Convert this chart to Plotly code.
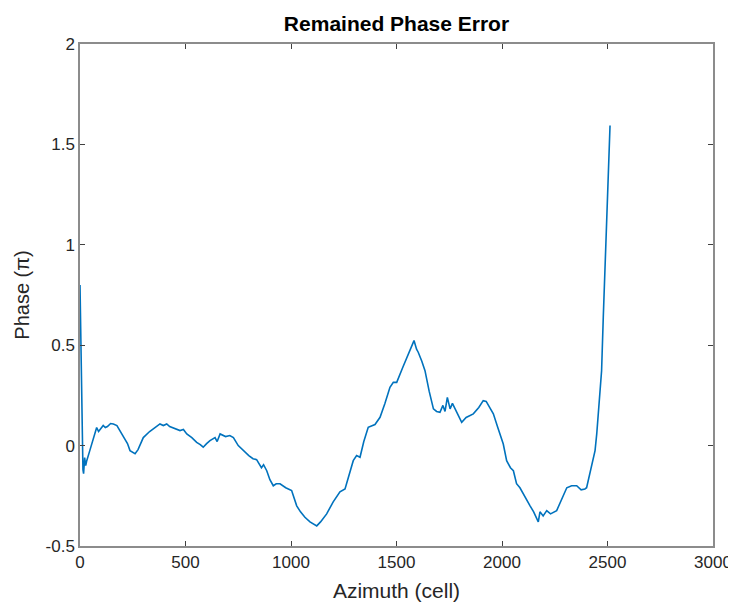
import plotly.graph_objects as go

azimuth = [0, 3, 6, 10, 14, 17, 22, 27, 32, 45, 60, 79, 88, 95, 110, 120, 130, 145, 158, 175, 190,
           210, 225, 237, 250, 261, 275, 300, 330, 360, 379, 395, 411, 425, 440, 474, 490, 506,
           530, 553, 570, 584, 600, 616, 640, 650, 664, 690, 710, 727, 750, 774, 800, 820, 837,
           860, 870, 885, 900, 916, 930, 948, 975, 1003, 1015, 1027, 1045, 1066, 1090, 1110,
           1122, 1140, 1169, 1200, 1232, 1256, 1275, 1295, 1311, 1327, 1345, 1366, 1398, 1422,
           1445, 1469, 1485, 1501, 1530, 1564, 1575, 1583, 1595, 1603, 1620, 1635, 1655, 1675,
           1690, 1706, 1720, 1730, 1741, 1754, 1765, 1777, 1790, 1809, 1830, 1850, 1864, 1890,
           1911, 1925, 1940, 1959, 1980, 2006, 2022, 2040, 2054, 2069, 2085, 2110, 2133, 2150,
           2164, 2172, 2180, 2195, 2212, 2230, 2259, 2280, 2307, 2330, 2354, 2375, 2393, 2401,
           2417, 2425, 2441, 2449, 2456, 2464, 2472, 2480, 2496, 2512]
phase = [0.80, 0.55, 0.30, 0.0, -0.12, -0.14, -0.06, -0.10, -0.075, -0.03, 0.02, 0.09, 0.07,
         0.08, 0.10, 0.09, 0.095, 0.11, 0.108, 0.10, 0.075, 0.04, 0.01, -0.025, -0.035, -0.04,
         -0.02, 0.04, 0.07, 0.095, 0.108, 0.10, 0.108, 0.095, 0.09, 0.075, 0.08, 0.058, 0.04,
         0.016, 0.005, -0.008, 0.01, 0.025, 0.04, 0.02, 0.058, 0.045, 0.05, 0.04, 0.0, -0.025,
         -0.05, -0.065, -0.07, -0.11, -0.095, -0.125, -0.17, -0.2, -0.19, -0.19, -0.21, -0.224,
         -0.26, -0.30, -0.33, -0.357, -0.38, -0.395, -0.40, -0.38, -0.34, -0.28, -0.23, -0.216,
         -0.15, -0.075, -0.05, -0.058, 0.02, 0.091, 0.105, 0.141, 0.21, 0.29, 0.315, 0.315, 0.39,
         0.473, 0.50, 0.523, 0.48, 0.465, 0.42, 0.373, 0.27, 0.183, 0.17, 0.166, 0.20, 0.17,
         0.24, 0.183, 0.21, 0.183, 0.15, 0.116, 0.14, 0.15, 0.158, 0.19, 0.224, 0.22, 0.19,
         0.158, 0.09, 0.008, -0.075, -0.11, -0.125, -0.19, -0.21, -0.26, -0.30, -0.33, -0.357,
         -0.38, -0.33, -0.35, -0.324, -0.34, -0.324, -0.27, -0.21, -0.20, -0.20, -0.22, -0.216,
         -0.21, -0.14, -0.108, -0.025, 0.058, 0.158, 0.224, 0.373, 0.639, 1.137, 1.594]

x_ticks = [0, 500, 1000, 1500, 2000, 2500, 3000]
y_ticks = [-0.5, 0, 0.5, 1, 1.5, 2]
y_tick_labels = ["-0.5", "0", "0.5", "1", "1.5", "2"]

FONT = "Liberation Sans, Arial"
W, H = 728, 595  # page body has an 8px margin
L, R, T, B = 72, 23, 36, 57

fig = go.Figure()
fig.add_trace(go.Scatter(x=azimuth, y=phase, mode="lines",
                         line=dict(color="#0072BD", width=1.6), showlegend=False))

axis_common = dict(showline=True, linecolor="#8c8c8c", linewidth=1.5, mirror="ticks",
                   ticks="inside", ticklen=5, tickcolor="#404040", showgrid=False,
                   zeroline=False, automargin=False,
                   tickfont=dict(family=FONT, size=17, color="#262626"))

fig.update_layout(
    width=W, height=H,
    margin=dict(l=L, r=R, t=T, b=B),
    paper_bgcolor="white", plot_bgcolor="white",
    title=dict(text="<b>Remained Phase Error</b>", x=(L + W - R) / 2 / W, xanchor="center",
               y=1 - 16 / H, yanchor="middle",
               font=dict(family=FONT, size=21, color="black")),
    xaxis=dict(range=[0, 3000], tickvals=x_ticks,
               title=dict(text="Azimuth (cell)", font=dict(family=FONT, size=21, color="#262626"), standoff=12),
               **axis_common),
    yaxis=dict(range=[-0.5, 2], tickvals=y_ticks, ticktext=y_tick_labels,
               title=dict(text="Phase (π)", font=dict(family=FONT, size=20, color="#262626"), standoff=11),
               **axis_common),
)

fig.write_html("out.html")
